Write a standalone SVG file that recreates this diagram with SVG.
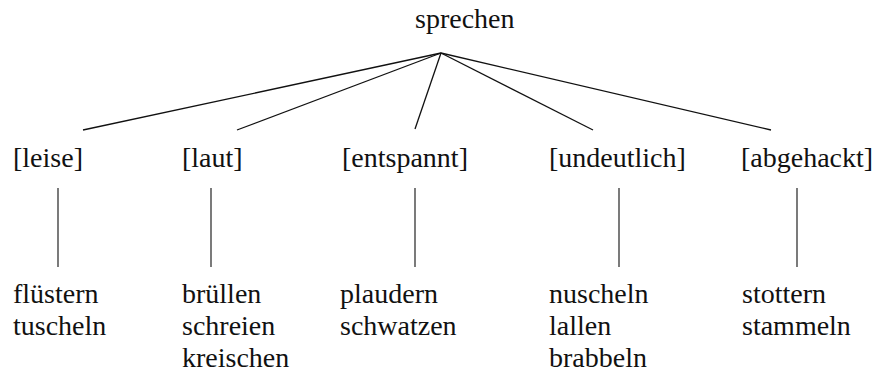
<svg xmlns="http://www.w3.org/2000/svg" width="876" height="374" viewBox="0 0 876 374">
<style>
text{font-family:'Liberation Serif','Tinos','Times New Roman',Times,'DejaVu Serif','Noto Serif',serif;font-size:28px;fill:#111}
.e{stroke:#111;stroke-width:1.3;fill:none}
.v{stroke:#333;stroke-width:1.3;fill:none}
</style>
<rect width="876" height="374" fill="#fff"/>
<g id="connectors">
<line class="e" x1="441" y1="53" x2="83" y2="130"/>
<line class="e" x1="441" y1="53" x2="237" y2="130"/>
<line class="e" x1="441" y1="53" x2="415" y2="129"/>
<line class="e" x1="441" y1="53" x2="593" y2="130"/>
<line class="e" x1="441" y1="53" x2="771" y2="130"/>
<line class="v" x1="58" y1="188" x2="58" y2="267"/>
<line class="v" x1="211" y1="188" x2="211" y2="267"/>
<line class="v" x1="415" y1="188" x2="415" y2="267"/>
<line class="v" x1="619" y1="188" x2="619" y2="267"/>
<line class="v" x1="797" y1="188" x2="797" y2="267"/>
</g>
<g id="sprechen"><text x="415" y="28">sprechen</text></g>
<g id="leise"><text x="13" y="167">[leise]</text></g>
<g id="laut"><text x="182" y="167">[laut]</text></g>
<g id="entspannt"><text x="342" y="167">[entspannt]</text></g>
<g id="undeutlich"><text x="549" y="167">[undeutlich]</text></g>
<g id="abgehackt"><text x="741" y="167">[abgehackt]</text></g>
<g id="leise-words"><text x="13" y="303">flüstern</text><text x="13" y="335">tuscheln</text></g>
<g id="laut-words"><text x="182" y="303">brüllen</text><text x="182" y="335">schreien</text><text x="182" y="367">kreischen</text></g>
<g id="entspannt-words"><text x="340" y="303">plaudern</text><text x="340" y="335">schwatzen</text></g>
<g id="undeutlich-words"><text x="549" y="303">nuscheln</text><text x="549" y="335">lallen</text><text x="549" y="367">brabbeln</text></g>
<g id="abgehackt-words"><text x="742" y="303">stottern</text><text x="742" y="335">stammeln</text></g>
</svg>
